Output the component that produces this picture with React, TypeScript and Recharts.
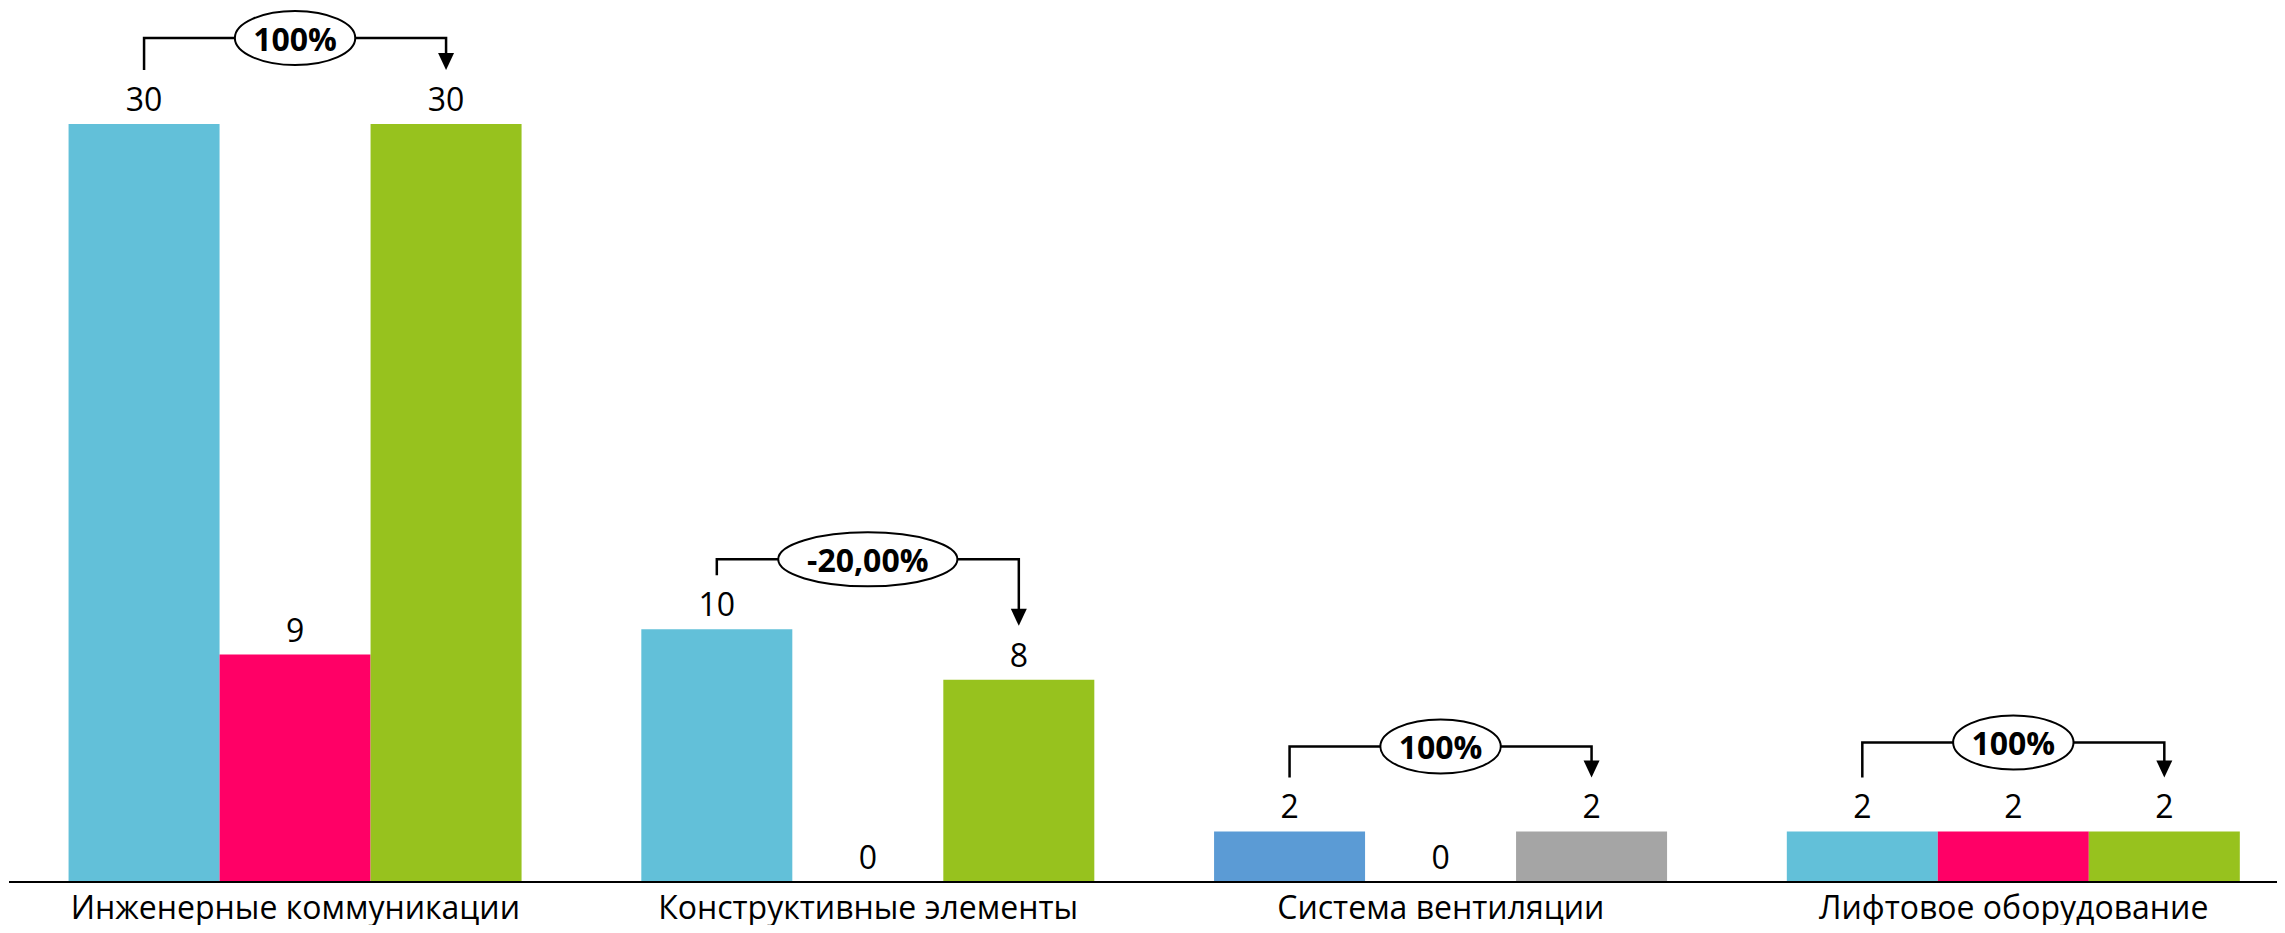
import { BarChart, Bar, XAxis, YAxis, LabelList, Cell, Rectangle } from 'recharts';

const categories = [
  'Инженерные коммуникации',
  'Конструктивные элементы',
  'Система вентиляции',
  'Лифтовое оборудование',
];
const planValues = [30, 10, 2, 2];
const midValues = [9, 0, 0, 2];
const factValues = [30, 8, 2, 2];
const changeLabels = ['100%', '-20,00%', '100%', '100%'];

const planColors = ['#62C0D9', '#62C0D9', '#5B9BD5', '#62C0D9'];
const midColor = '#FF0066';
const factColors = ['#97C21E', '#97C21E', '#A5A5A5', '#97C21E'];

// bracket height above the taller bar of the pair, px
const BRACKET_LIFT = [86, 70, 85, 89];
const STUB_GAP = 54;
const FONT = '"Open Sans", sans-serif';

const data = categories.map((name, i) => ({
  name,
  plan: planValues[i],
  mid: midValues[i],
  fact: factValues[i],
  change: changeLabels[i],
}));

function FactBar(props: any) {
  const { x, y, width, height, fill, index, payload } = props;
  const base = y + height;
  const unit = height / payload.fact;
  const y1 = base - payload.plan * unit;
  const xR = x + width / 2;
  const xL = xR - 2 * width;
  const lineY = Math.min(y1, y) - BRACKET_LIFT[index];
  const leftEnd = y1 - STUB_GAP;
  const tipY = y - STUB_GAP;
  const cx = (xL + xR) / 2;
  const rx = 21 + payload.change.length * 9.8;
  return (
    <g>
      <Rectangle x={x} y={y} width={width} height={height} fill={fill} />
      <polyline
        points={`${xL},${leftEnd} ${xL},${lineY} ${xR},${lineY} ${xR},${tipY - 16}`}
        fill="none"
        stroke="#000"
        strokeWidth={2.5}
      />
      <polygon points={`${xR - 8},${tipY - 17} ${xR + 8},${tipY - 17} ${xR},${tipY}`} fill="#000" />
      <ellipse cx={cx} cy={lineY} rx={rx} ry={27} fill="#fff" stroke="#000" strokeWidth={2} />
      <text
        x={cx}
        y={lineY}
        textAnchor="middle"
        dominantBaseline="central"
        fontFamily={FONT}
        fontWeight={700}
        fontSize={32}
        fill="#000"
      >
        {payload.change}
      </text>
    </g>
  );
}

const labelStyle = { fontFamily: FONT, fontSize: 32, fill: '#000' };

export default function App() {
  return (
    <div style={{ width: 2277, height: 925, overflow: 'hidden', marginBottom: -8 }}>
      <BarChart
        width={2292}
        height={925}
        data={data}
        margin={{ top: 116, right: 0, left: 1, bottom: 0 }}
        barCategoryGap="10.4%"
        barGap={0}
      >
        <XAxis
          dataKey="name"
          height={51}
          axisLine={{ stroke: '#000', strokeWidth: 2 }}
          tickLine={false}
          tickSize={0}
          tickMargin={14}
          tick={{ fontFamily: FONT, fontSize: 32, fill: '#000' }}
          interval={0}
        />
        <YAxis hide domain={[0, 30]} />
        <Bar dataKey="plan" isAnimationActive={false}>
          {data.map((_, i) => (
            <Cell key={i} fill={planColors[i]} />
          ))}
          <LabelList dataKey="plan" position="top" offset={13} style={labelStyle} />
        </Bar>
        <Bar dataKey="mid" fill={midColor} minPointSize={0.01} isAnimationActive={false}>
          <LabelList dataKey="mid" position="top" offset={13} style={labelStyle} />
        </Bar>
        <Bar dataKey="fact" isAnimationActive={false} shape={<FactBar />}>
          {data.map((_, i) => (
            <Cell key={i} fill={factColors[i]} />
          ))}
          <LabelList dataKey="fact" position="top" offset={13} style={labelStyle} />
        </Bar>
      </BarChart>
    </div>
  );
}
